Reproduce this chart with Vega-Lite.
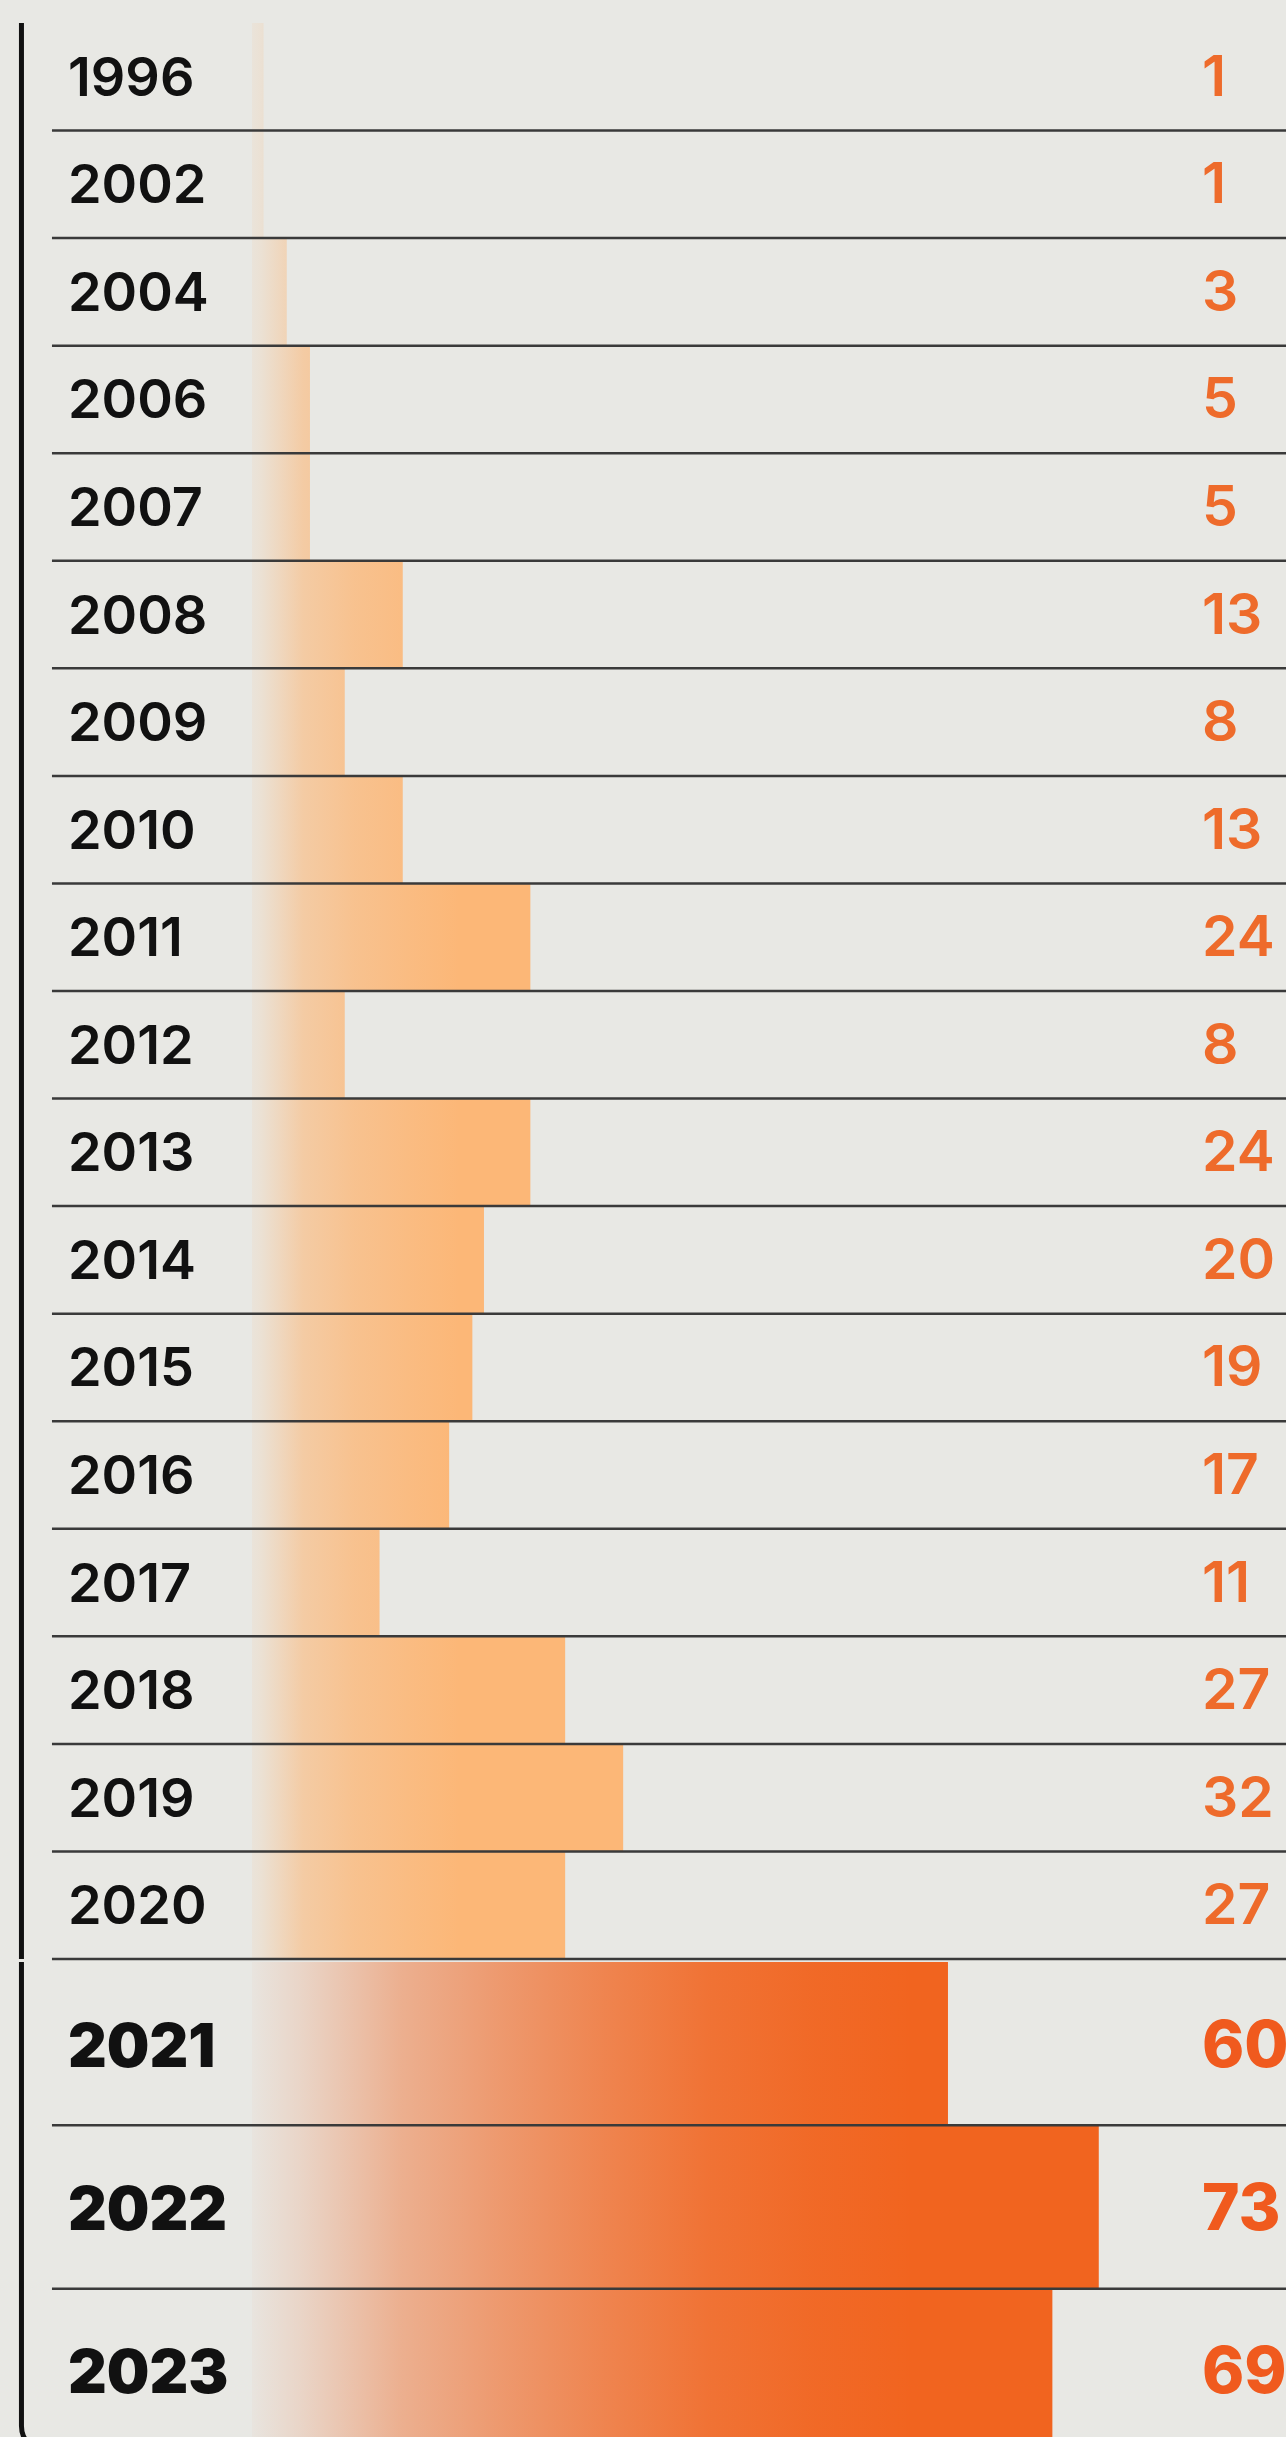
{
  "$schema": "https://vega.github.io/schema/vega-lite/v6.json",
  "background": "#e8e8e4",
  "padding": {"top": 20, "left": 0, "right": 0, "bottom": 0},
  "spacing": 0,
  "config": {
    "view": {"stroke": null},
    "axis": {"disable": true},
    "scale": {"bandPaddingInner": 0, "bandPaddingOuter": 0},
    "text": {"font": "Inter"}
  },
  "datasets": {
    "counts": [
      {"year": 1996, "count": 1},
      {"year": 2002, "count": 1},
      {"year": 2004, "count": 3},
      {"year": 2006, "count": 5},
      {"year": 2007, "count": 5},
      {"year": 2008, "count": 13},
      {"year": 2009, "count": 8},
      {"year": 2010, "count": 13},
      {"year": 2011, "count": 24},
      {"year": 2012, "count": 8},
      {"year": 2013, "count": 24},
      {"year": 2014, "count": 20},
      {"year": 2015, "count": 19},
      {"year": 2016, "count": 17},
      {"year": 2017, "count": 11},
      {"year": 2018, "count": 27},
      {"year": 2019, "count": 32},
      {"year": 2020, "count": 27},
      {"year": 2021, "count": 60},
      {"year": 2022, "count": 73},
      {"year": 2023, "count": 69}
    ],
    "single": [{"part": "frame"}]
  },
  "vconcat": [
    {
      "width": 1286,
      "height": 1936,
      "data": {"name": "counts"},
      "transform": [{"filter": "datum.year <= 2020"}],
      "layer": [
        {
          "mark": {"type": "bar", "color": "#fcb777"},
          "encoding": {
            "y": {"field": "year", "type": "ordinal", "axis": null},
            "x": {"field": "count", "type": "quantitative", "axis": null,
                  "scale": {"domain": [-21.72, 89.14], "nice": false, "zero": false}}
          }
        },
        {
          "data": {"name": "single"},
          "mark": {"type": "rect",
                   "fill": {"gradient": "linear", "x1": 0, "x2": 1, "y1": 0, "y2": 0,
                            "stops": [
                              {"offset": 0, "color": "rgba(232,232,228,0.93)"},
                              {"offset": 0.06, "color": "rgba(232,232,228,0.85)"},
                              {"offset": 0.26, "color": "rgba(232,232,228,0.41)"},
                              {"offset": 0.5, "color": "rgba(232,232,228,0.22)"},
                              {"offset": 0.75, "color": "rgba(232,232,228,0.1)"},
                              {"offset": 1, "color": "rgba(232,232,228,0)"}
                            ]}},
          "encoding": {
            "x": {"datum": -0.3, "type": "quantitative"},
            "x2": {"datum": 17.9}
          }
        },
        {
          "mark": {"type": "rule", "color": "#3a3a3a", "strokeWidth": 2.5},
          "encoding": {
            "y": {"field": "year", "type": "ordinal", "bandPosition": 1},
            "x": {"datum": -17.24, "type": "quantitative"},
            "x2": {"datum": 89.14}
          }
        },
        {
          "data": {"name": "single"},
          "mark": {"type": "rule", "color": "#111111", "strokeWidth": 5},
          "encoding": {
            "x": {"datum": -19.87, "type": "quantitative"}
          }
        },
        {
          "mark": {"type": "text", "align": "left", "baseline": "middle", "fontSize": 54, "fontWeight": 600, "color": "#111111", "dy": 3},
          "encoding": {
            "y": {"field": "year", "type": "ordinal"},
            "x": {"datum": -15.86, "type": "quantitative"},
            "text": {"field": "year", "type": "ordinal"}
          }
        },
        {
          "mark": {"type": "text", "align": "left", "baseline": "middle", "fontSize": 57, "fontWeight": 600, "color": "#ee6b2b", "dy": 2},
          "encoding": {
            "y": {"field": "year", "type": "ordinal"},
            "x": {"datum": 81.9, "type": "quantitative"},
            "text": {"field": "count", "type": "quantitative"}
          }
        }
      ]
    },
    {
      "width": 1286,
      "height": 490,
      "data": {"name": "counts"},
      "transform": [{"filter": "datum.year >= 2021"}],
      "layer": [
        {
          "mark": {"type": "bar", "color": "#f1641f"},
          "encoding": {
            "y": {"field": "year", "type": "ordinal", "axis": null},
            "x": {"field": "count", "type": "quantitative", "axis": null,
                  "scale": {"domain": [-21.72, 89.14], "nice": false, "zero": false}}
          }
        },
        {
          "data": {"name": "single"},
          "mark": {"type": "rect",
                   "fill": {"gradient": "linear", "x1": 0, "x2": 1, "y1": 0, "y2": 0,
                            "stops": [
                              {"offset": 0, "color": "rgba(232,232,228,0.98)"},
                              {"offset": 0.076, "color": "rgba(232,232,228,0.86)"},
                              {"offset": 0.23, "color": "rgba(232,232,228,0.57)"},
                              {"offset": 0.38, "color": "rgba(232,232,228,0.4)"},
                              {"offset": 0.54, "color": "rgba(232,232,228,0.24)"},
                              {"offset": 0.69, "color": "rgba(232,232,228,0.11)"},
                              {"offset": 0.85, "color": "rgba(232,232,228,0.04)"},
                              {"offset": 1, "color": "rgba(232,232,228,0)"}
                            ]}},
          "encoding": {
            "x": {"datum": -0.3, "type": "quantitative"},
            "x2": {"datum": 57.1}
          }
        },
        {
          "transform": [{"filter": "datum.year < 2023"}],
          "mark": {"type": "rule", "color": "#3a3a3a", "strokeWidth": 2.5},
          "encoding": {
            "y": {"field": "year", "type": "ordinal", "bandPosition": 1},
            "x": {"datum": -17.24, "type": "quantitative"},
            "x2": {"datum": 89.14}
          }
        },
        {
          "data": {"name": "single"},
          "mark": {"type": "rect", "fill": "transparent", "stroke": "#111111", "strokeWidth": 5,
                   "cornerRadiusBottomLeft": 26, "yOffset": -30, "y2Offset": -12, "clip": true},
          "encoding": {
            "x": {"datum": -19.87, "type": "quantitative"},
            "x2": {"datum": 95}
          }
        },
        {
          "mark": {"type": "text", "align": "left", "baseline": "middle", "fontSize": 60, "fontWeight": 900, "color": "#111111", "dy": 5},
          "encoding": {
            "y": {"field": "year", "type": "ordinal"},
            "x": {"datum": -15.86, "type": "quantitative"},
            "text": {"field": "year", "type": "ordinal"}
          }
        },
        {
          "mark": {"type": "text", "align": "left", "baseline": "middle", "fontSize": 64, "fontWeight": 800, "color": "#f05a1e", "dy": 4},
          "encoding": {
            "y": {"field": "year", "type": "ordinal"},
            "x": {"datum": 81.9, "type": "quantitative"},
            "text": {"field": "count", "type": "quantitative"}
          }
        }
      ]
    }
  ]
}
